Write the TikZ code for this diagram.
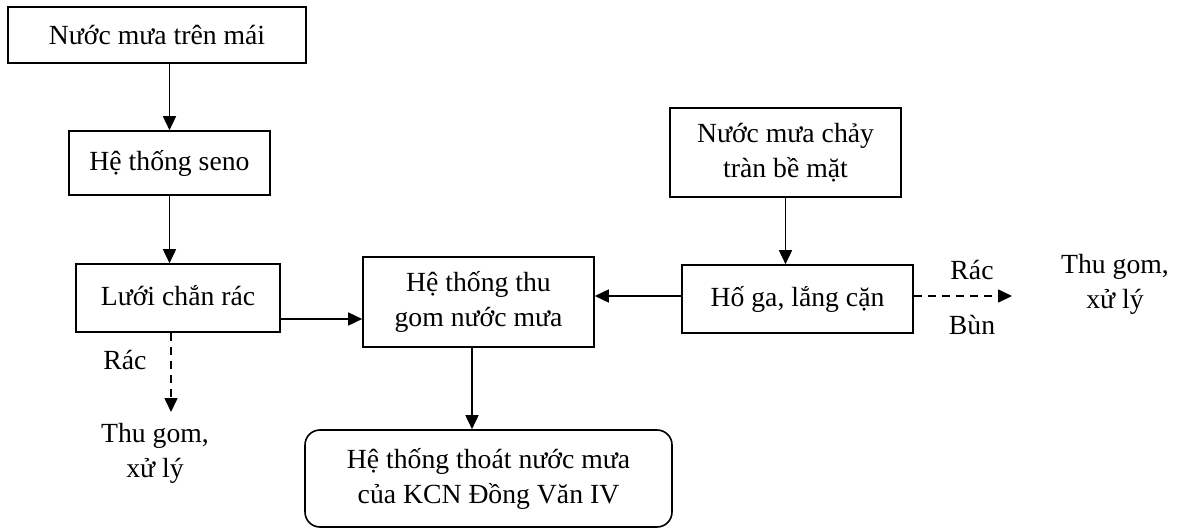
\documentclass[tikz,border=0pt]{standalone}
\usepackage{fontspec}
\setmainfont{Liberation Serif}
\usetikzlibrary{arrows.meta}
\begin{document}
\begin{tikzpicture}[x=0.5pt,y=-0.5pt,
  font=\fontsize{13.85}{17.5}\selectfont,
  box/.style={draw, line width=0.8pt, inner sep=0pt, align=center},
  arr/.style={line width=0.8pt, -{Triangle[length=7pt,width=6.5pt]}},
  dasharr/.style={arr, dash pattern=on 4pt off 3pt},
  lbl/.style={inner sep=0pt, align=center}]
\useasboundingbox (0,0) rectangle (1177,529);

% process boxes
\node[box, minimum width=149pt, minimum height=28pt] (mai) at (157,35) {Nước mưa trên mái};
\node[box, minimum width=100.5pt, minimum height=32pt] (seno) at (169.5,163) {Hệ thống seno};
\node[box, minimum width=102pt, minimum height=34pt] (luoi) at (178,298) {\raisebox{3pt}{Lưới chắn rác}};
\node[box, minimum width=115.5pt, minimum height=45pt] (thugom) at (478.5,302) {Hệ thống thu\\gom nước mưa};
\node[box, minimum width=115.5pt, minimum height=34pt] (hoga) at (797.5,299) {\raisebox{2.5pt}{Hố ga, lắng cặn}};
\node[box, minimum width=115.5pt, minimum height=44.5pt] (chaytran) at (785.5,152.5) {Nước mưa chảy\\tràn bề mặt};
\node[box, rounded corners=7.5pt, minimum width=183.5pt, minimum height=48.5pt] (thoat) at (488.5,478.5) {Hệ thống thoát nước mưa\\của KCN Đồng Văn IV};

% free-standing labels
\node[lbl] (racL) at (125,360) {Rác};
\node[lbl] (xulyL) at (155,453) {Thu gom,\\xử lý};
\node[lbl] (racR) at (972,270) {Rác};
\node[lbl] (bunR) at (972,325) {Bùn};
\node[lbl] (xulyR) at (1115,284) {Thu gom,\\xử lý};

% solid flows
\draw[arr] (mai.south -| seno.north) -- (seno.north);
\draw[arr] (seno.south) -- (seno.south |- luoi.north);
\draw[arr] ([yshift=-10.5pt]luoi.east) coordinate (a) -- (a -| thugom.west);
\draw[arr] ([yshift=1.5pt]hoga.west) coordinate (b) -- (b -| thugom.east);
\draw[arr] (chaytran.south) -- (chaytran.south |- hoga.north);
\draw[arr] ([xshift=-3.25pt]thugom.south) coordinate (c) -- (c |- thoat.north);

% waste removal (dashed)
\coordinate (endL) at (171,412);
\coordinate (endR) at (1012,296);
\draw[dasharr] (luoi.south -| endL) -- (endL);
\draw[dasharr] (hoga.east |- endR) -- (endR);
\end{tikzpicture}
\end{document}
